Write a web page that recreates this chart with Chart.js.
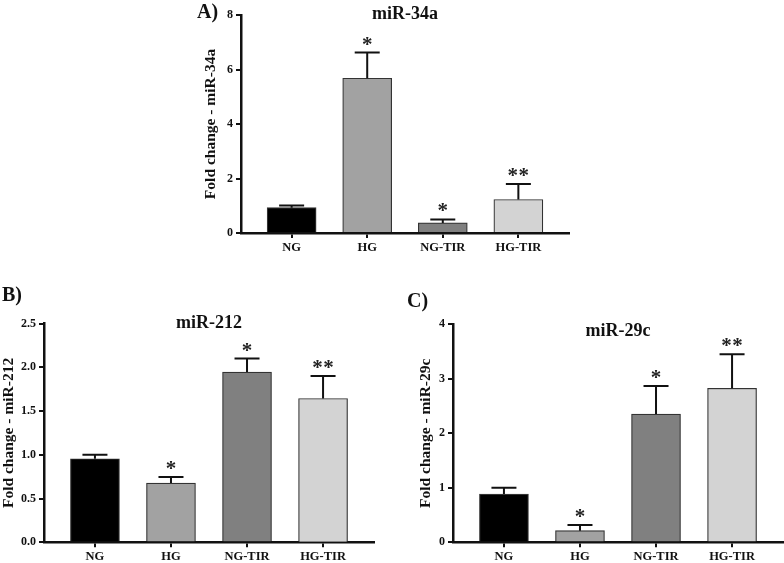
<!DOCTYPE html>
<html>
<head>
<meta charset="utf-8">
<script src="https://cdn.jsdelivr.net/npm/chart.js@4.4.1/dist/chart.umd.min.js"></script>
<style>
  body { margin: 0; background: #fff; width: 784px; height: 563px; position: relative; overflow: hidden; }
  canvas { position: absolute; }
</style>
</head>
<body>
<canvas id="chartA" width="390" height="270" style="left:190px; top:0px"></canvas>
<canvas id="chartB" width="390" height="283" style="left:0px; top:280px"></canvas>
<canvas id="chartC" width="390" height="283" style="left:394px; top:280px"></canvas>
<script>
const groups = ['NG', 'HG', 'NG-TIR', 'HG-TIR'];
const barColors = ['#000000', '#a2a2a2', '#808080', '#d3d3d3'];

// A) miR-34a
const miR34aMean = [0.93, 5.68, 0.37, 1.23];
const miR34aSem = [0.08, 0.94, 0.13, 0.57];
const miR34aSig = ['', '*', '*', '**'];
const miR34aTicks = [0, 2, 4, 6, 8];

// B) miR-212
const miR212Mean = [0.955, 0.677, 1.945, 1.643];
const miR212Sem = [0.045, 0.068, 0.155, 0.257];
const miR212Sig = ['', '*', '*', '**'];
const miR212Ticks = [0, 0.5, 1.0, 1.5, 2.0, 2.5];

// C) miR-29c
const miR29cMean = [0.886, 0.213, 2.354, 2.826];
const miR29cSem = [0.114, 0.104, 0.516, 0.624];
const miR29cSig = ['', '*', '*', '**'];
const miR29cTicks = [0, 1, 2, 3, 4];

const serif = '"Liberation Serif", "Times New Roman", serif';
const ink = '#111';

// error bar (mean + SEM) and significance stars above each bar
const errorBarPlugin = {
    id: 'errorBars',
    afterDatasetsDraw(chart, args, opts) {
        const ctx = chart.ctx;
        const y = chart.scales.y;
        const pts = chart.data.datasets[0].data;
        const meta = chart.getDatasetMeta(0);
        ctx.save();
        ctx.strokeStyle = ink;
        ctx.lineWidth = 2;
        meta.data.forEach((bar, i) => {
            const top = y.getPixelForValue(pts[i].y + opts.sem[i]);
            ctx.beginPath();
            ctx.moveTo(bar.x, bar.y);
            ctx.lineTo(bar.x, top);
            ctx.moveTo(bar.x - 12.5, top);
            ctx.lineTo(bar.x + 12.5, top);
            ctx.stroke();
            const mark = opts.marks[i];
            ctx.font = 'bold 21px ' + serif;
            ctx.fillStyle = '#222';
            ctx.textAlign = 'center';
            ctx.textBaseline = 'alphabetic';
            for (let k = 0; k < mark.length; k++) {
                const dx = (k - (mark.length - 1) / 2) * 11;
                ctx.fillText('*', bar.x + dx, top - 2);
            }
        });
        ctx.restore();
    }
};

const panelLetterPlugin = {
    id: 'panelLetter',
    afterDraw(chart, args, opts) {
        const ctx = chart.ctx;
        ctx.save();
        ctx.font = 'bold 20px ' + serif;
        ctx.fillStyle = ink;
        ctx.textAlign = 'left';
        ctx.textBaseline = 'middle';
        ctx.fillText(opts.text, opts.x, opts.y);
        ctx.restore();
    }
};

function makePanel(id, p) {
    const titleLine = 18 * 1.2;
    return new Chart(document.getElementById(id), {
        type: 'bar',
        data: {
            datasets: [{
                data: p.mean.map((v, i) => ({ x: i + 1, y: v })),
                backgroundColor: barColors,
                borderColor: '#333',
                borderWidth: 1.2,
                barThickness: 49
            }]
        },
        options: {
            responsive: false,
            animation: false,
            layout: { padding: { left: 0, top: p.top, right: p.right, bottom: 0 } },
            plugins: {
                legend: { display: false },
                tooltip: { enabled: false },
                title: {
                    display: true,
                    text: p.title,
                    fullSize: false,
                    color: ink,
                    font: { family: serif, size: 18, weight: 'bold' },
                    padding: { top: p.titleShift - titleLine / 2, bottom: -titleLine / 2 - p.titleShift }
                },
                errorBars: { sem: p.sem, marks: p.marks },
                panelLetter: p.letter
            },
            scales: {
                x: {
                    type: 'linear',
                    min: 0.33,
                    max: 4.67,
                    offset: false,
                    afterBuildTicks: s => { s.ticks = groups.map((g, i) => ({ value: i + 1 })); },
                    afterFit: s => { s.height = p.xHeight; },
                    ticks: {
                        autoSkip: false, maxRotation: 0, padding: 2, color: ink,
                        font: { family: serif, size: 12.5, weight: 'bold' },
                        callback: v => groups[Math.round(v) - 1]
                    },
                    grid: { offset: false, drawOnChartArea: false, drawTicks: true, tickLength: 5, lineWidth: 2, color: ink },
                    border: { display: true, color: ink, width: 2.5 }
                },
                y: {
                    min: p.ticks[0],
                    max: p.ticks[p.ticks.length - 1],
                    afterFit: s => { s.width = p.yWidth; },
                    ticks: {
                        stepSize: p.ticks[1] - p.ticks[0], padding: 3, color: ink,
                        font: { family: serif, size: 12, weight: 'bold' },
                        callback: v => v.toFixed(p.decimals)
                    },
                    grid: { drawOnChartArea: false, drawTicks: true, tickLength: 5, lineWidth: 2, color: ink },
                    border: { display: true, color: ink, width: 2.5 },
                    title: {
                        display: true, text: p.yTitle, color: ink,
                        font: { family: serif, size: 15.5, weight: 'bold' },
                        padding: { top: p.yTitlePad, bottom: 0 }
                    }
                }
            }
        },
        plugins: [errorBarPlugin, panelLetterPlugin]
    });
}

makePanel('chartA', {
    mean: miR34aMean, sem: miR34aSem, marks: miR34aSig, ticks: miR34aTicks, decimals: 0,
    title: 'miR-34a', yTitle: 'Fold change - miR-34a',
    top: 15, right: 11, yWidth: 51, xHeight: 37, yTitlePad: 11.5, titleShift: -1,
    letter: { text: 'A)', x: 7, y: 13 }
});

makePanel('chartB', {
    mean: miR212Mean, sem: miR212Sem, marks: miR212Sig, ticks: miR212Ticks, decimals: 1,
    title: 'miR-212', yTitle: 'Fold change - miR-212',
    top: 43.5, right: 16, yWidth: 44, xHeight: 20.7, yTitlePad: 0, titleShift: 0,
    letter: { text: 'B)', x: 2, y: 16 }
});

makePanel('chartC', {
    mean: miR29cMean, sem: miR29cSem, marks: miR29cSig, ticks: miR29cTicks, decimals: 0,
    title: 'miR-29c', yTitle: 'Fold change - miR-29c',
    top: 44.3, right: 1, yWidth: 59, xHeight: 20.7, yTitlePad: 22.5, titleShift: 7.5,
    letter: { text: 'C)', x: 13, y: 22 }
});
</script>
</body>
</html>
